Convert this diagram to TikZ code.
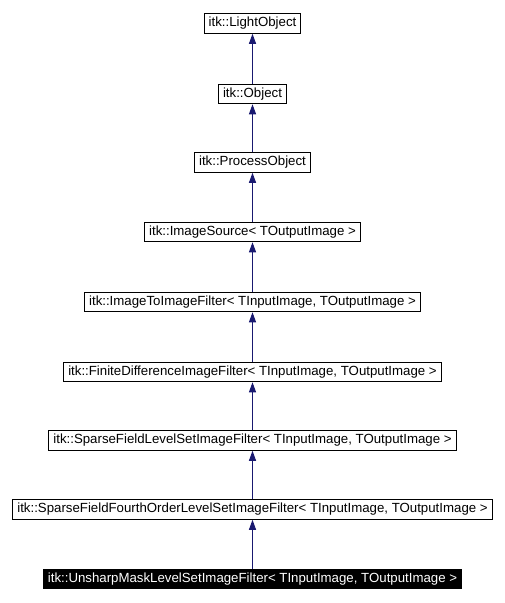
\documentclass[tikz,border=0pt]{standalone}
\usepackage{fontspec}
\setmainfont{Liberation Sans}
\usetikzlibrary{arrows.meta}
\definecolor{navy}{HTML}{191970}
\begin{document}
\begin{tikzpicture}[x=1pt,y=-1pt,>={Triangle[width=7pt,length=10pt]},
  cls/.style={draw=black,line width=1pt,fill=white,inner ysep=0pt,inner xsep=4.5pt,
    minimum height=19.5pt,font=\fontsize{13.25}{15}\selectfont},
  cur/.style={cls,fill=black,text=white},
  inh/.style={->,draw=navy,line width=1pt}]
\useasboundingbox (0,0) rectangle (505,603);
\node[cls](light) at (252.5,23.5){itk::LightObject};
\node[cls](obj) at (252.5,94){itk::Object};
\node[cls](proc) at (252.5,162.5){itk::ProcessObject};
\node[cls](src) at (252.5,232){itk::ImageSource< TOutputImage >};
\node[cls](i2i) at (252.5,302){itk::ImageToImageFilter< TInputImage, TOutputImage >};
\node[cls](fdif) at (252.5,372){itk::FiniteDifferenceImageFilter< TInputImage, TOutputImage >};
\node[cls](sfls) at (252.5,440.5){itk::SparseFieldLevelSetImageFilter< TInputImage, TOutputImage >};
\node[cls](sf4) at (252.5,509.5){itk::SparseFieldFourthOrderLevelSetImageFilter< TInputImage, TOutputImage >};
\node[cur](usm) at (252.5,579){itk::UnsharpMaskLevelSetImageFilter< TInputImage, TOutputImage >};
\draw[inh](obj)--(light); \draw[inh](proc)--(obj);
\draw[inh](src)--(proc); \draw[inh](i2i)--(src);
\draw[inh](fdif)--(i2i); \draw[inh](sfls)--(fdif);
\draw[inh](sf4)--(sfls); \draw[inh](usm)--(sf4);
\end{tikzpicture}
\end{document}
